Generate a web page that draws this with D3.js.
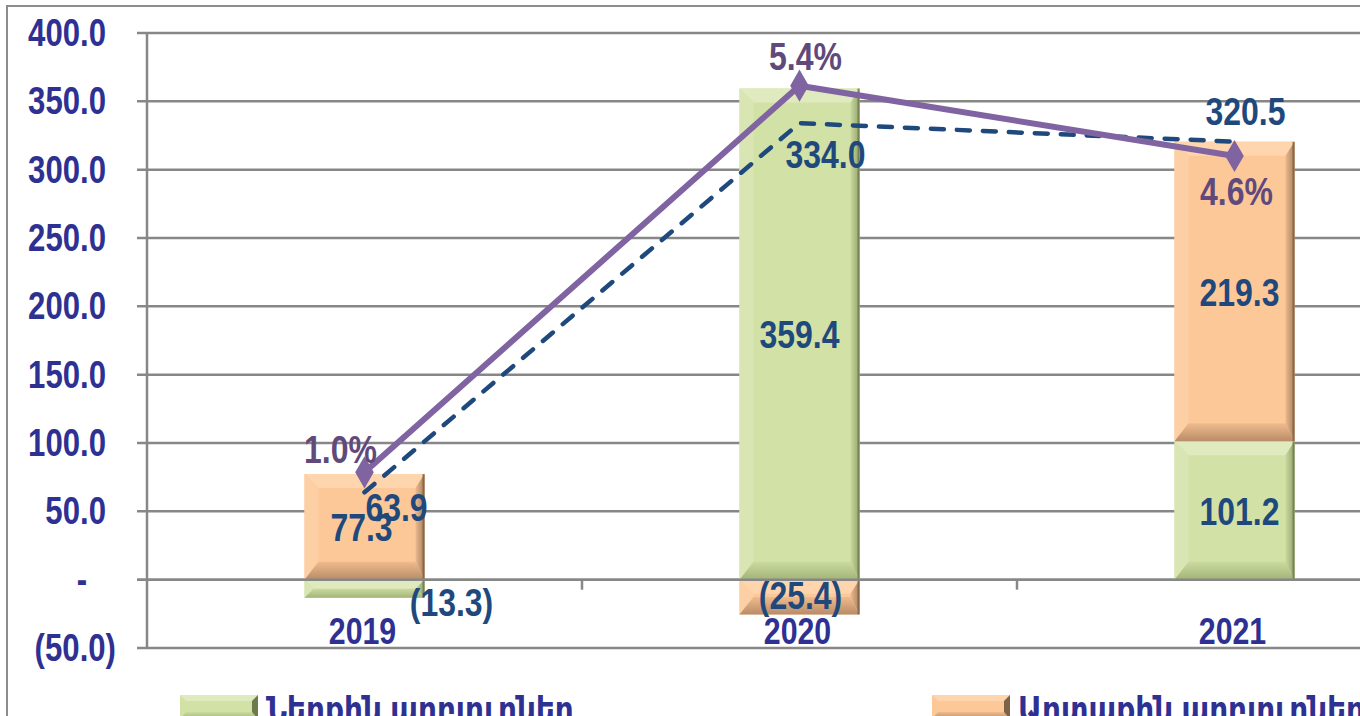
<!DOCTYPE html>
<html>
<head>
<meta charset="utf-8">
<script src="https://cdn.jsdelivr.net/npm/d3@7"></script>
<style>
  body { margin: 0; background: #fff; }
  svg { display: block; }
  text { font-family: "Liberation Sans", Arial, "DejaVu Sans", sans-serif; font-weight: bold; }
</style>
</head>
<body>
<svg id="chart" width="1360" height="716"></svg>
<script>
// data
const years = ["2019", "2020", "2021"];
const internalSources = [-13.3, 359.4, 101.2];
const externalSources = [77.3, -25.4, 219.3];
const totalFinancing = [63.9, 334.0, 320.5];
const pctOfGdp = [1.0, 5.4, 4.6];
const yTicks = [-50, 0, 50, 100, 150, 200, 250, 300, 350, 400];
const legendNames = ["Ներքին աղբյուրներ", "Արտաքին աղբյուրներ"];

// layout tweaks for the labels (dx from band centre, baseline dy from value point)
const greenLabelPos = [[87, 36], [0, null], [5, null]];
const orangeLabelPos = [[-3, null], [1, 29], [5, null]];
const totalLabelPos = [[32, 29], [26, 45], [11, -17]];
const pctLabelPos = [[-24, -9], [6, -16], [2, 49]];

const svg = d3.select("#chart");
const W = 1360, H = 716;
const NARROW = 0.82; // fake Arial Narrow

const x = d3.scaleBand().domain(years).range([147, 1452]);
const y = d3.scaleLinear().domain([-50, 400]).range([648, 33]);
const y2 = d3.scaleLinear().domain([-1, 6]).range([648, 33]);
const barW = 120;
const cx = d => x(d) + x.bandwidth() / 2;

const fmt = v => v < 0 ? "(" + d3.format(".1f")(-v) + ")" : d3.format(".1f")(v);

function narrowText(g, tx, ty, str) {
    return g.append("text")
        .attr("transform", `translate(${tx},${ty}) scale(${NARROW},1)`)
        .text(str);
}

// outer frame
svg.append("path")
    .attr("d", `M7,${H} L7,6 L${W},6`)
    .attr("fill", "none").attr("stroke", "#8c8c8c").attr("stroke-width", 2);

// gridlines
svg.append("g").selectAll("line")
    .data(yTicks)
    .join("line")
    .attr("x1", 137).attr("x2", W)
    .attr("y1", d => y(d)).attr("y2", d => y(d))
    .attr("stroke", "#878787").attr("stroke-width", 2.5);

// y axis line
svg.append("line")
    .attr("x1", 147).attr("x2", 147).attr("y1", y(400)).attr("y2", y(-50))
    .attr("stroke", "#878787").attr("stroke-width", 2.5);

// category ticks on zero line
svg.append("g").selectAll("line")
    .data(years.slice(1))
    .join("line")
    .attr("x1", d => x(d)).attr("x2", d => x(d))
    .attr("y1", y(0)).attr("y2", y(0) + 10)
    .attr("stroke", "#878787").attr("stroke-width", 2.5);

// y tick labels
const yLab = svg.append("g").attr("font-size", 38).attr("fill", "#2e3192");
yTicks.forEach(d => {
    narrowText(yLab, d === 0 ? 82 : d < 0 ? 116 : 106, y(d) + 13, d === 0 ? "-" : fmt(d))
        .attr("text-anchor", d === 0 ? "middle" : "end");
});

// gradients for the bevel look
const defs = svg.append("defs");
function makeGrad(id, stops, vertical) {
    const g = defs.append("linearGradient").attr("id", id)
        .attr("x1", 0).attr("y1", 0)
        .attr("x2", vertical ? 0 : 1).attr("y2", vertical ? 1 : 0);
    stops.forEach((c, i) => g.append("stop").attr("offset", (i / (stops.length - 1) * 100) + "%").attr("stop-color", c));
}
const palettes = {
    green: {base: "#d2e2a6", top: "#dfeabf", left: "#d9e6b4", right: ["#c9d99e", "#95a46c"], bottom: ["#cbdb9f", "#a3b478"], edge: "#6d7a4c"},
    orange: {base: "#fdc898", top: "#fed5ad", left: "#fdcfa4", right: ["#ecb98c", "#a8815f"], bottom: ["#f0bb8d", "#b88c68"], edge: "#7e6147"}
};
makeGrad("gBotGreen", palettes.green.bottom, true);
makeGrad("gBotOrange", palettes.orange.bottom, true);
makeGrad("gRightGreen", palettes.green.right, false);
makeGrad("gRightOrange", palettes.orange.right, false);

function bevelBar(g, x0, v0, v1, pal, key) {
    const yTop = Math.min(y(v0), y(v1)), yBot = Math.max(y(v0), y(v1));
    const x1 = x0 + barW, h = yBot - yTop;
    const b = Math.min(14, h / 2), bb = Math.min(18, h / 2), br = 9;
    const grp = g.append("g");
    grp.append("rect").attr("x", x0).attr("y", yTop).attr("width", barW).attr("height", h).attr("fill", pal.base);
    const poly = (pts, fill) => grp.append("polygon").attr("points", pts.map(p => p.join(",")).join(" ")).attr("fill", fill);
    poly([[x0, yTop], [x1, yTop], [x1 - br, yTop + b], [x0 + b, yTop + b]], pal.top);
    poly([[x0, yTop], [x0 + b, yTop + b], [x0 + b, yBot - bb], [x0, yBot]], pal.left);
    poly([[x1, yTop], [x1 - br, yTop + b], [x1 - br, yBot - bb], [x1, yBot]], `url(#gRight${key})`);
    poly([[x0, yBot], [x1, yBot], [x1 - br, yBot - bb], [x0 + b, yBot - bb]], `url(#gBot${key})`);
    grp.append("line").attr("x1", x1 - 1).attr("x2", x1 - 1).attr("y1", yTop).attr("y2", yBot)
        .attr("stroke", pal.edge).attr("stroke-width", 2).attr("opacity", 0.8);
}

// stacked bars (Excel style: positives stack up, negatives stack down)
const barsG = svg.append("g");
years.forEach((yr, i) => {
    let pos = 0, neg = 0;
    [[internalSources[i], palettes.green, "Green"], [externalSources[i], palettes.orange, "Orange"]].forEach(([v, pal, key]) => {
        let a, b;
        if (v >= 0) { a = pos; b = pos + v; pos = b; } else { a = neg; b = neg + v; neg = b; }
        bevelBar(barsG, cx(yr) - barW / 2, a, b, pal, key);
    });
});

// zero line redrawn on top of bars
svg.append("line")
    .attr("x1", 137).attr("x2", W).attr("y1", y(0)).attr("y2", y(0))
    .attr("stroke", "#878787").attr("stroke-width", 2.5);

// total line (dashed)
svg.append("path")
    .datum(totalFinancing)
    .attr("d", d3.line().x((d, i) => cx(years[i])).y(d => y(d)))
    .attr("fill", "none").attr("stroke", "#1f497d").attr("stroke-width", 4.5)
    .attr("stroke-dasharray", "13,13").attr("stroke-linecap", "round");

// percent line
svg.append("path")
    .datum(pctOfGdp)
    .attr("d", d3.line().x((d, i) => cx(years[i])).y(d => y2(d)))
    .attr("fill", "none").attr("stroke", "#8064a2").attr("stroke-width", 6);
svg.append("g").selectAll("path")
    .data(pctOfGdp)
    .join("path")
    .attr("d", d3.symbol(d3.symbolDiamond, 300))
    .attr("transform", (d, i) => `translate(${cx(years[i])},${y2(d)})`)
    .attr("fill", "#8064a2");

// value labels
const labelsG = svg.append("g").attr("font-size", 39).attr("text-anchor", "middle");
years.forEach((yr, i) => {
    // green: internal
    const gv = internalSources[i];
    narrowText(labelsG, cx(yr) + greenLabelPos[i][0],
        greenLabelPos[i][1] === null ? y(gv / 2) + 14 : y(0) + greenLabelPos[i][1], fmt(gv))
        .attr("fill", "#1f497d");
    // orange: external
    const ov = externalSources[i];
    const oBase = ov >= 0 && gv > 0 ? gv : 0;
    narrowText(labelsG, cx(yr) + orangeLabelPos[i][0],
        orangeLabelPos[i][1] === null ? y(oBase + ov / 2) + 14 : y(0) + orangeLabelPos[i][1], fmt(ov))
        .attr("fill", "#1f497d");
    // total
    narrowText(labelsG, cx(yr) + totalLabelPos[i][0], y(totalFinancing[i]) + totalLabelPos[i][1], fmt(totalFinancing[i]))
        .attr("fill", "#1f497d");
    // percent
    narrowText(labelsG, cx(yr) + pctLabelPos[i][0], y2(pctOfGdp[i]) + pctLabelPos[i][1], d3.format(".1f")(pctOfGdp[i]) + "%")
        .attr("fill", "#604a7b");
});

// category labels
const catG = svg.append("g").attr("font-size", 37).attr("fill", "#2e3192").attr("text-anchor", "middle");
years.forEach(d => narrowText(catG, cx(d) - 2, 644, d));

// legend
const legend = svg.append("g");
const legendX = [180, 932];
const legendFills = [palettes.green, palettes.orange];
const legendKeys = ["Green", "Orange"];
legendNames.forEach((name, i) => {
    const g = legend.append("g").attr("transform", `translate(${legendX[i]},695)`);
    const pal = legendFills[i];
    g.append("rect").attr("width", 78).attr("height", 24).attr("fill", pal.base);
    g.append("polygon").attr("points", "0,0 78,0 72,6 6,6").attr("fill", pal.top);
    g.append("polygon").attr("points", "0,24 78,24 72,17 6,17").attr("fill", `url(#gBot${legendKeys[i]})`);
    g.append("polygon").attr("points", "78,0 72,6 72,17 78,24").attr("fill", pal.edge);
    narrowText(g, 86, 27, name).attr("font-size", 36).attr("fill", "#2e3192");
});
</script>
</body>
</html>
